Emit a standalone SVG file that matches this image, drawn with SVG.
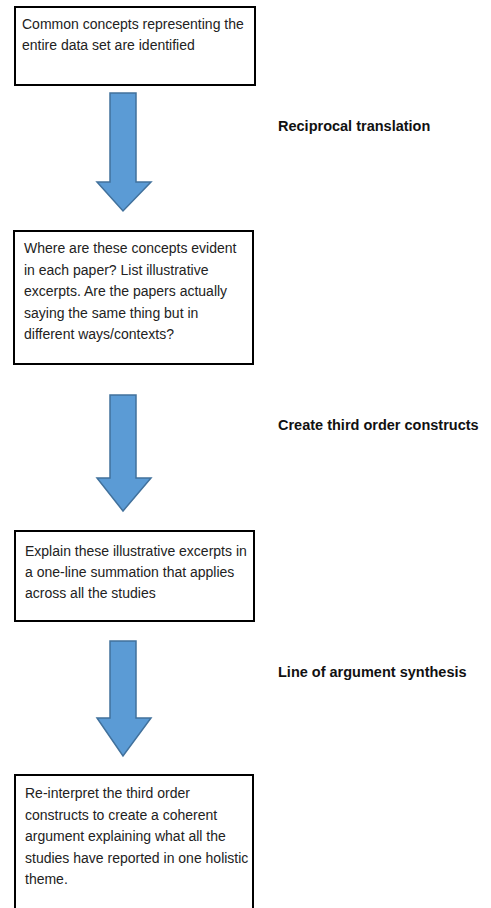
<svg xmlns="http://www.w3.org/2000/svg" width="491" height="908" viewBox="0 0 491 908">
<style>
.box{fill:#fff;stroke:#000;stroke-width:2}
.t{font-family:"Liberation Sans",Arial,sans-serif;font-size:14px;fill:#222}
.lbl{font-family:"Liberation Sans",Arial,sans-serif;font-size:14.5px;font-weight:bold;fill:#111}
.arr{fill:#5B9BD5;stroke:#41719C;stroke-width:1.5;stroke-linejoin:miter}
</style>
<rect width="491" height="908" fill="#fff"/>
<g id="connectors">
<path class="arr" d="M110,93 H136 V182 H151 L123,211 L97,182 H110 Z"/>
<path class="arr" d="M110,395 H136 V478 H151 L123,511 L97,478 H110 Z"/>
<path class="arr" d="M110,641 H136 V718 H151 L123,756 L97,718 H110 Z"/>
</g>
<g id="n1">
<rect class="box" x="15" y="7" width="240" height="78"/>
<text class="t" x="22" y="29">Common concepts representing the</text>
<text class="t" x="22" y="50">entire data set are identified</text>
</g>
<g id="n2">
<rect class="box" x="14" y="231" width="239" height="133"/>
<text class="t" x="24" y="253">Where are these concepts evident</text>
<text class="t" x="24" y="274.5">in each paper? List illustrative</text>
<text class="t" x="24" y="296">excerpts. Are the papers actually</text>
<text class="t" x="24" y="317.5">saying the same thing but in</text>
<text class="t" x="24" y="339">different ways/contexts?</text>
</g>
<g id="n3">
<rect class="box" x="15" y="531" width="239" height="90"/>
<text class="t" x="25" y="556">Explain these illustrative excerpts in</text>
<text class="t" x="25" y="577">a one-line summation that applies</text>
<text class="t" x="25" y="598">across all the studies</text>
</g>
<g id="n4">
<rect class="box" x="15" y="775" width="238" height="150"/>
<text class="t" x="25" y="798">Re-interpret the third order</text>
<text class="t" x="25" y="819.5">constructs to create a coherent</text>
<text class="t" x="25" y="841">argument explaining what all the</text>
<text class="t" x="25" y="862.5">studies have reported in one holistic</text>
<text class="t" x="25" y="884">theme.</text>
</g>
<g id="labels">
<text class="lbl" x="278" y="131">Reciprocal translation</text>
<text class="lbl" x="278" y="430">Create third order constructs</text>
<text class="lbl" x="278" y="677">Line of argument synthesis</text>
</g>
</svg>
